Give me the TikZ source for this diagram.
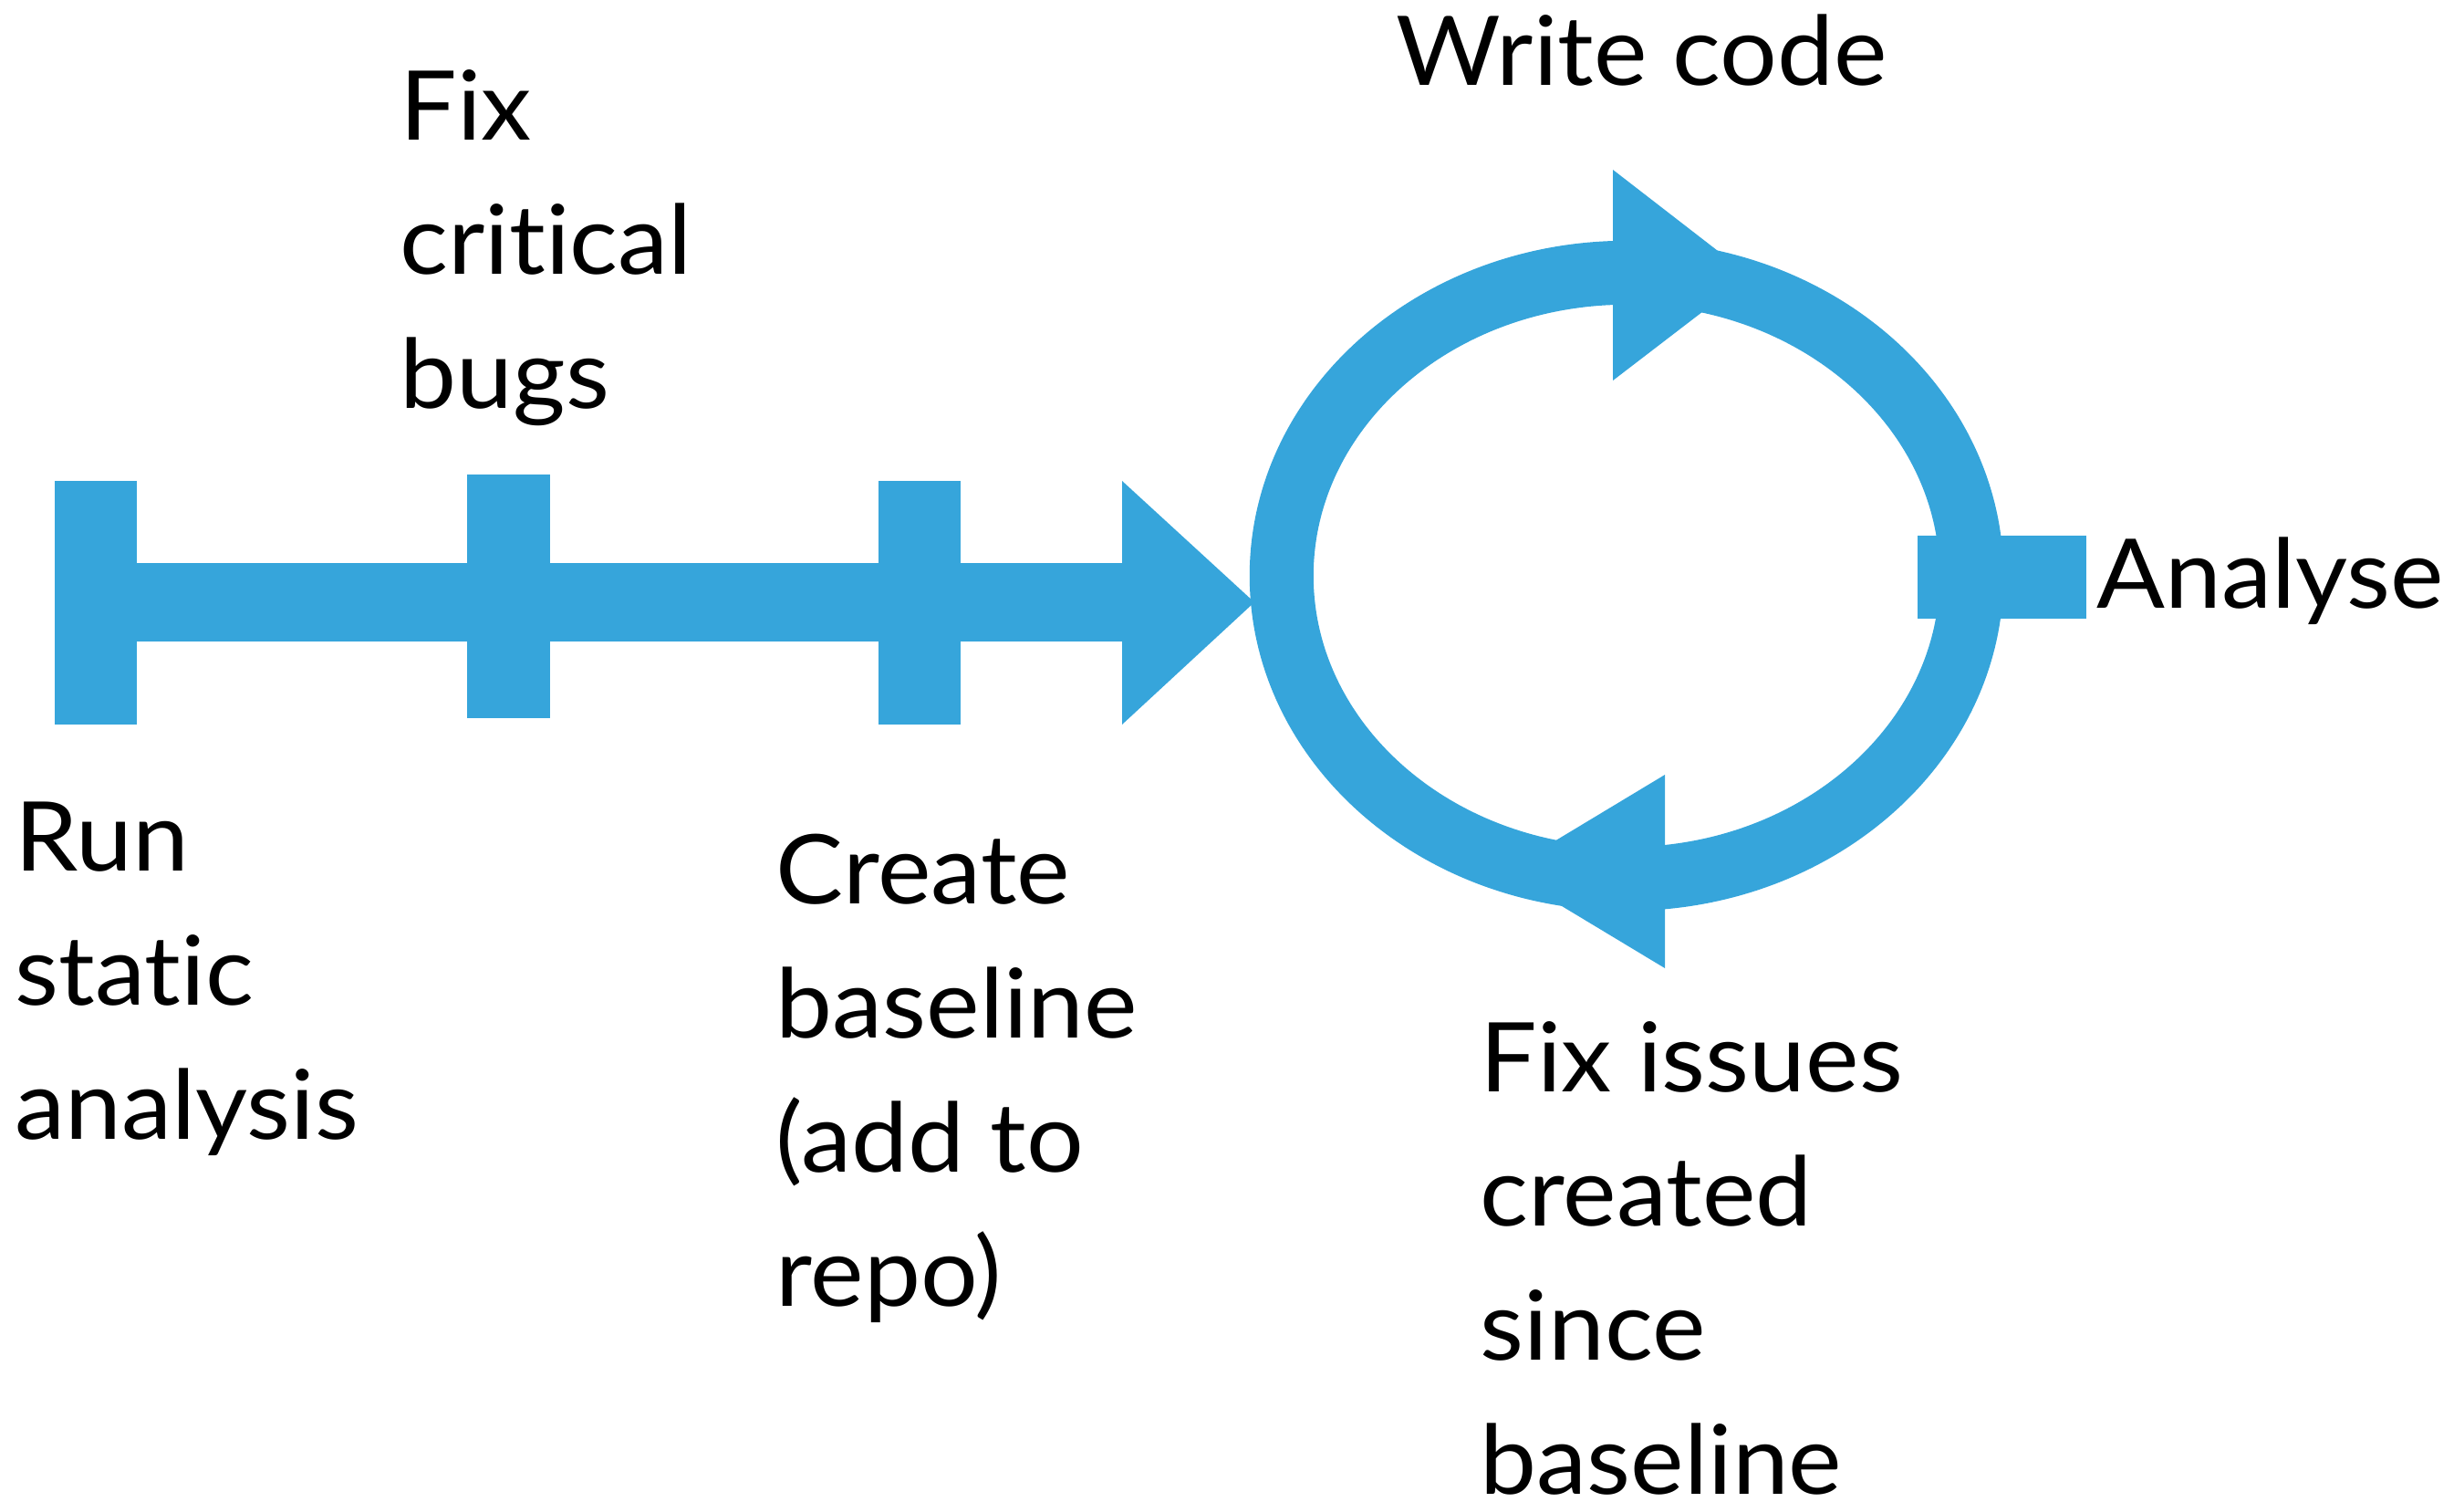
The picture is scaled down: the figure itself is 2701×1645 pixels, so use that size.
\documentclass[tikz,border=0pt]{standalone}
\usepackage{fontspec}
\setmainfont{Lato}[Ligatures=NoCommon, FakeStretch=1.05]
\definecolor{flowblue}{RGB}{54,165,219}
\tikzset{
  steptext/.style={anchor=base west, align=left, inner sep=0pt,
    font=\fontsize{30}{41.8}\selectfont},
  flow/.style={fill=flowblue}
}

\begin{document}
\begin{tikzpicture}[x=0.01cm, y=-0.01cm]
  \useasboundingbox (0,0) rectangle (2701,1645);

  % Main line with its ticks
  \fill[flow] (60,617) rectangle (1232,703);
  \fill[flow] (60,527) rectangle (150,794);
  \fill[flow] (512,520) rectangle (603,787);
  \fill[flow] (963,527) rectangle (1053,794);
  \fill[flow] (1230,527) -- (1375,660) -- (1230,794) -- cycle;

  % The loop
  \draw[flowblue, line width=0.7cm] (1783,631) ellipse [x radius=3.78cm, y radius=3.32cm];
  \fill[flow] (1768,186) -- (1918,302) -- (1768,417) -- cycle;
  \fill[flow] (1825,849) -- (1649,955) -- (1825,1061) -- cycle;
  \fill[flow] (2102,587) rectangle (2287,678);

  % Labels (placed at the baseline of their last line)
  \node[steptext] (run) at (16,1248) {Run\\static\\analysis};
  \node[steptext] (fix) at (438,447) {Fix\\critical\\bugs};
  \node[steptext] (base) at (850,1431) {Create\\baseline\\(add to\\repo)};
  \node[steptext] (write) at (1530,93) {Write code};
  \node[steptext] (analyse) at (2298,666) {Analyse};
  \node[steptext] (issues) at (1622,1637) {Fix issues\\created\\since\\baseline};
\end{tikzpicture}
\end{document}
